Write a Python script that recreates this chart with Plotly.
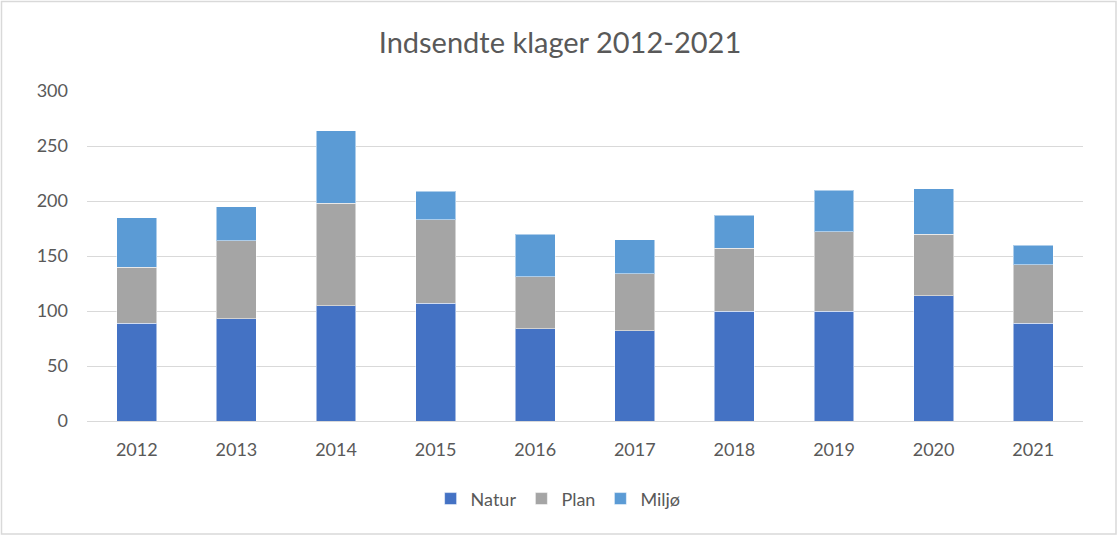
import plotly.graph_objects as go

years = ["2012", "2013", "2014", "2015", "2016", "2017", "2018", "2019", "2020", "2021"]
natur = [89, 93, 105, 107, 84, 82, 100, 100, 114, 89]
plan = [51, 71, 93, 76, 47, 52, 57, 72, 56, 53]
miljo = [45, 31, 66, 26, 39, 31, 30, 38, 41, 18]
y_ticks = [0, 50, 100, 150, 200, 250, 300]

series = [("Natur", natur, "#4472C4"), ("Plan", plan, "#A5A5A5"), ("Miljø", miljo, "#5B9BD5")]

fig = go.Figure()
for name, vals, col in series:
    fig.add_trace(go.Bar(x=years, y=vals, name=name, marker=dict(color=col, line=dict(color="rgba(255,255,255,0.5)", width=1))))

font_fam = "Lato, Open Sans, sans-serif"
fig.update_layout(
    barmode="stack",
    bargap=0.6,
    width=1120, height=549,
    margin=dict(l=87, r=37, t=91, b=128),
    paper_bgcolor="white", plot_bgcolor="white",
    font=dict(family=font_fam, color="#595959", size=18),
    title=dict(text="Indsendte klager 2012-2021", x=0.5, xanchor="center", y=0.922, yanchor="middle",
               font=dict(size=29, color="#595959", family=font_fam)),
    legend=dict(orientation="h", x=0.473, xanchor="center", y=-0.236, yanchor="middle",
                font=dict(size=18, color="#595959"), traceorder="normal", itemwidth=30),
    xaxis=dict(showgrid=False, showline=True, linecolor="#D9D9D9", linewidth=1, ticks="",
               ticklabelstandoff=12, tickfont=dict(size=18, color="#595959")),
    yaxis=dict(range=[0, 300], tickvals=y_ticks, showgrid=True, gridcolor="#D9D9D9", gridwidth=1,
               zeroline=False, ticks="", ticklabelstandoff=18, tickfont=dict(size=18, color="#595959")),
    shapes=[dict(type="rect", xref="paper", yref="paper",
                 x0=(1.5 - 87) / 996, x1=(1116 - 87) / 996, y0=(421 - 534) / 330, y1=(421 - 1.5) / 330,
                 line=dict(color="#D9D9D9", width=1.5), fillcolor="rgba(0,0,0,0)", layer="below")],
)

fig.write_html("out.html", config={"displayModeBar": False},
               post_script="document.body.style.margin='0';")
